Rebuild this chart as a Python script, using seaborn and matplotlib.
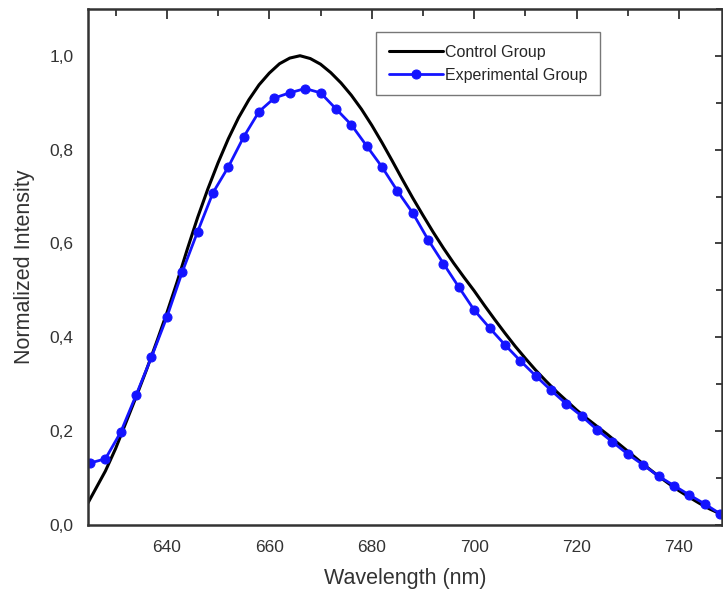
import numpy as np
import pandas as pd
import matplotlib
matplotlib.use("Agg")
import matplotlib.pyplot as plt
import seaborn as sns
from matplotlib.ticker import MultipleLocator

# ==========================
# Data
# ==========================

control_wl = [624, 626, 628, 630, 632, 634, 636, 638, 640, 642, 644, 646, 648, 650,
              652, 654, 656, 658, 660, 662, 664, 666, 668, 670, 672, 674, 676, 678,
              680, 682, 684, 686, 688, 690, 692, 694, 696, 698, 700, 702, 704, 706,
              708, 710, 712, 714, 716, 718, 720, 722, 724, 726, 728, 730, 732, 734,
              736, 738, 740, 742, 744, 746, 748]
control_int = [0.035, 0.075, 0.115, 0.163, 0.218, 0.273, 0.330, 0.390, 0.452, 0.518,
               0.588, 0.655, 0.716, 0.772, 0.823, 0.868, 0.906, 0.938, 0.963, 0.983,
               0.995, 1.000, 0.994, 0.982, 0.964, 0.942, 0.916, 0.886, 0.852, 0.815,
               0.776, 0.736, 0.697, 0.660, 0.624, 0.590, 0.558, 0.528, 0.499, 0.468,
               0.438, 0.409, 0.381, 0.355, 0.330, 0.307, 0.285, 0.265, 0.245, 0.227,
               0.210, 0.193, 0.175, 0.157, 0.139, 0.121, 0.104, 0.088, 0.073, 0.059,
               0.046, 0.034, 0.024]

exp_wl = [625, 628, 631, 634, 637, 640, 643, 646, 649, 652, 655, 658, 661, 664,
          667, 670, 673, 676, 679, 682, 685, 688, 691, 694, 697, 700, 703, 706,
          709, 712, 715, 718, 721, 724, 727, 730, 733, 736, 739, 742, 745, 748]
exp_int = [0.132, 0.141, 0.198, 0.277, 0.358, 0.443, 0.539, 0.625, 0.708, 0.763,
           0.827, 0.881, 0.910, 0.921, 0.930, 0.921, 0.887, 0.853, 0.808, 0.763,
           0.712, 0.665, 0.608, 0.557, 0.507, 0.458, 0.420, 0.384, 0.350, 0.318,
           0.287, 0.258, 0.232, 0.203, 0.177, 0.151, 0.128, 0.104, 0.084, 0.064,
           0.045, 0.024]

x_ticks = [640, 660, 680, 700, 720, 740]
y_ticks = [0.0, 0.2, 0.4, 0.6, 0.8, 1.0]
y_tick_labels = ["0,0", "0,2", "0,4", "0,6", "0,8", "1,0"]

control_df = pd.DataFrame({"Wavelength": control_wl, "Intensity": control_int})
exp_df = pd.DataFrame({"Wavelength": exp_wl, "Intensity": exp_int})

# ==========================
# Plot
# ==========================

sns.set_style("white")
plt.rcParams["font.family"] = ["Liberation Sans", "DejaVu Sans"]

fig = plt.figure(figsize=(7.23, 6.03), dpi=100)
ax = fig.add_axes([0.1217, 0.1294, 0.877, 0.856])

sns.lineplot(data=control_df, x="Wavelength", y="Intensity", ax=ax,
             color="black", linewidth=2.2, label="Control Group")
sns.lineplot(data=exp_df, x="Wavelength", y="Intensity", ax=ax,
             color="#1414ff", linewidth=2.0, marker="o", markersize=6.5,
             markeredgecolor="#1414ff", label="Experimental Group")

ax.set_xlim(624.6, 748.4)
ax.set_ylim(0, 1.10)

ax.set_xticks(x_ticks)
ax.set_yticks(y_ticks)
ax.set_yticklabels(y_tick_labels)
ax.xaxis.set_minor_locator(MultipleLocator(10))
ax.yaxis.set_minor_locator(MultipleLocator(0.1))

ax.tick_params(axis="both", which="major", direction="out", length=7, width=1.3,
               labelsize=12.5, colors="#333333", labelcolor="#333333")
ax.tick_params(axis="both", which="minor", direction="out", length=5, width=1.3,
               colors="#333333")

# mirrored ticks pointing inward on top and right
top = ax.secondary_xaxis("top")
top.set_xticks(x_ticks)
top.xaxis.set_minor_locator(MultipleLocator(10))
top.tick_params(which="major", direction="in", length=7, width=1.3, labeltop=False,
                colors="#333333")
top.tick_params(which="minor", direction="in", length=5, width=1.3, colors="#333333")
right = ax.secondary_yaxis("right")
right.set_yticks(y_ticks)
right.yaxis.set_minor_locator(MultipleLocator(0.1))
right.tick_params(which="major", direction="in", length=5, width=1.3, labelright=False,
                  colors="#333333")
right.tick_params(which="minor", direction="in", length=4, width=1.3, colors="#333333")
for s in [top.spines["top"], right.spines["right"]]:
    s.set_visible(False)

for spine in ax.spines.values():
    spine.set_color("#333333")
    spine.set_linewidth(1.8)

ax.set_xlabel("Wavelength (nm)", fontsize=15.5, color="#333333", labelpad=10)
ax.set_ylabel("Normalized Intensity", fontsize=15.5, color="#333333", labelpad=10)

leg = ax.legend(loc="upper left", bbox_to_anchor=(0.4416, 0.971), fontsize=11.5,
                frameon=True, fancybox=False, edgecolor="#555555",
                handlelength=3.4, handletextpad=0.1, borderpad=0.8,
                labelspacing=0.5)
leg.get_frame().set_linewidth(1.0)

plt.savefig("out.png", dpi=100)
